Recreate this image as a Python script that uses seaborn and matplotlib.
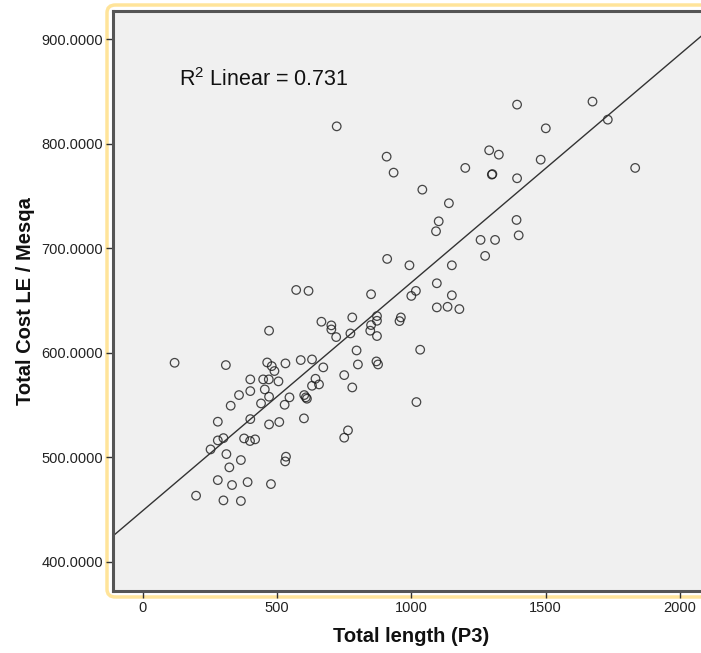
import numpy as np
import pandas as pd
import seaborn as sns
import matplotlib.pyplot as plt
from matplotlib.patches import FancyBboxPatch

# values
total_length = [722, 1394, 1675, 1732, 1501, 908, 934, 1290, 1326, 1482,
                1834, 1201, 1300, 1302, 1394, 1041, 1140, 1102, 1092, 1392,
                1400, 1258, 1312, 1275, 910, 993, 1151, 1095, 571, 617,
                850, 1017, 1000, 1151, 1095, 1135, 1179, 665, 702, 702,
                780, 720, 773, 470, 872, 872, 850, 847, 872, 961,
                956, 796, 1033, 118, 309, 463, 480, 490, 531, 588,
                630, 672, 801, 870, 876, 750, 780, 1019, 400, 448,
                469, 505, 400, 454, 358, 470, 440, 546, 528, 601,
                607, 611, 630, 643, 656, 327, 279, 400, 470, 508,
                600, 764, 750, 279, 300, 252, 377, 399, 418, 311,
                365, 322, 533, 530, 279, 332, 390, 477, 198, 300,
                365]
total_cost = [816.7, 837.5, 840.4, 823.1, 814.8, 787.7, 772.4, 793.8, 789.6, 784.8,
              776.9, 776.9, 770.5, 771.0, 767.0, 756.1, 743.1, 725.8, 716.3, 727.1,
              712.4, 708.0, 708.0, 692.7, 689.8, 683.7, 683.7, 666.5, 660.1, 659.2,
              656.0, 659.2, 654.4, 655.0, 643.4, 644.0, 641.8, 629.7, 626.2, 622.3,
              633.8, 615.0, 618.5, 621.1, 635.1, 630.6, 626.5, 621.1, 616.0, 633.8,
              630.3, 602.2, 602.9, 590.4, 588.2, 590.7, 587.2, 582.5, 589.8, 593.0,
              593.6, 586.0, 588.8, 591.7, 588.8, 578.6, 566.8, 552.8, 574.5, 574.5,
              574.5, 572.6, 563.3, 564.9, 559.5, 557.9, 551.5, 557.3, 550.2, 559.5,
              557.3, 556.0, 568.4, 575.1, 569.7, 549.3, 534.0, 536.5, 531.4, 533.7,
              537.2, 525.7, 518.7, 516.1, 518.3, 507.5, 518.0, 515.5, 517.1, 503.0,
              497.3, 490.3, 500.5, 496.0, 478.1, 473.4, 476.2, 474.3, 463.2, 458.7,
              458.1]
x_ticks = [0, 500, 1000, 1500, 2000]
y_ticks = [400, 500, 600, 700, 800, 900]
r2_label = r"R$^{\mathregular{2}}$ Linear = 0.731"

df = pd.DataFrame({"Total length (P3)": total_length,
                   "Total Cost LE / Mesqa": total_cost})

sns.set_theme(style="white")
plt.rcParams['font.family'] = ['Liberation Sans', 'DejaVu Sans']

fig = plt.figure(figsize=(7.01, 6.53), dpi=100)
ax = fig.add_axes([0.161, 0.095, 0.85, 0.888])
ax.set_facecolor('#F0F0F0')
ax.set_xlim(-112, 2108)
ax.set_ylim(372, 927)

sns.regplot(data=df, x="Total length (P3)", y="Total Cost LE / Mesqa", ax=ax,
            ci=None, truncate=False, color='#1a1a1a',
            scatter_kws=dict(facecolors='none', edgecolors='#1a1a1a', s=38, linewidths=0.9),
            line_kws=dict(color='#333333', lw=1.0))

ax.set_xlim(-112, 2108)
ax.set_ylim(372, 927)
ax.set_xticks(x_ticks)
ax.set_yticks(y_ticks)
ax.set_yticklabels([f"{v:.4f}" for v in y_ticks])
ax.tick_params(direction='out', length=5, width=1, color='#333333',
               labelsize=10.5, pad=2, labelcolor='#222222')
ax.tick_params(left=True, bottom=True)

for s in ax.spines.values():
    s.set_color('#555555')
    s.set_linewidth(2.2)

ax.set_xlabel("Total length (P3)", fontsize=14.5, fontweight='bold', labelpad=9, color='#111111')
ax.set_ylabel("Total Cost LE / Mesqa", fontsize=14.5, fontweight='bold', labelpad=5, color='#111111')

ax.text(134, 855, r2_label, fontsize=15.5, color='#111111', va='baseline', ha='left')

# yellow selection frame around the chart
box = FancyBboxPatch((107 / 701, 1 - 597 / 653), 0.9, (597 - 5) / 653,
                     boxstyle="round,pad=0,rounding_size=0.012",
                     transform=fig.transFigure, facecolor='none',
                     edgecolor='#FFE49A', linewidth=2.5, zorder=-1)
fig.add_artist(box)

fig.savefig('out.png', dpi=100)
plt.close()
